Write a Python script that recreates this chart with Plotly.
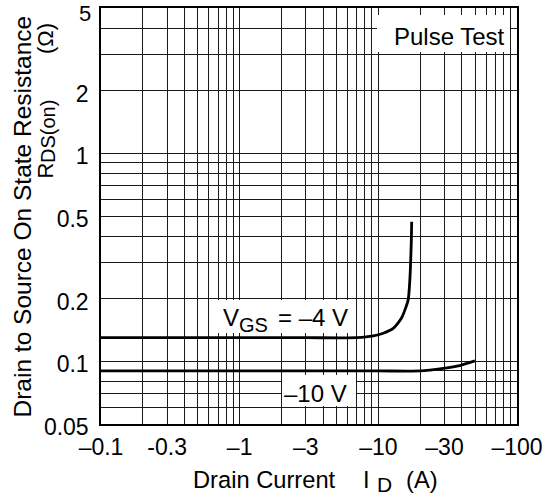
import plotly.graph_objects as go

# ---- data ----
id_vgs4 = [0.1, 0.3, 1, 3, 7, 9.2, 10.85, 12.8, 14.7, 16.4, 16.9, 17.1, 17.3, 17.4]
r_vgs4 = [0.13, 0.13, 0.13, 0.13, 0.13, 0.1325, 0.1365, 0.144, 0.1616, 0.197, 0.25, 0.3, 0.38, 0.469]

id_vgs10 = [0.1, 1, 10, 20, 29.4, 38.7, 49.7]
r_vgs10 = [0.09, 0.09, 0.09, 0.09, 0.0926, 0.0955, 0.1005]

x_tickvals = [0.1, 0.3, 1, 3, 10, 30, 100]
x_ticktext = ["\u20130.1", "-0.3", "\u20131", "\u20133", "\u201310", "\u201330", "\u2013100"]
x_minor = [0.2, 0.4, 0.5, 0.6, 0.7, 0.8, 0.9, 2, 4, 5, 6, 7, 8, 9, 20, 40, 50, 60, 70, 80, 90]

y_tickvals = [0.05, 0.1, 0.2, 0.5, 1, 2, 5]
y_ticktext = ["0.05", "0.1", "0.2", "0.5", "1", "2", ""]   # top label "5" drawn below so it is not clipped
y_top_label = "5"
y_minor = [0.06, 0.07, 0.08, 0.09, 0.3, 0.4, 0.6, 0.7, 0.8, 0.9, 3, 4]

FONT = "Liberation Sans, Arial, sans-serif"
GRID = "#1a1a1a"

W, H = 552, 499
L, R, T, B = 101, 35, 8, 75
PW, PH = W - L - R, H - T - B


def px(xp):
    return (xp - L) / PW


def py(yp):
    return (H - B - yp) / PH


fig = go.Figure()
fig.add_trace(go.Scatter(x=id_vgs4, y=r_vgs4, mode="lines", line=dict(color="black", width=2.8, shape="spline", smoothing=0.6), showlegend=False))
fig.add_trace(go.Scatter(x=id_vgs10, y=r_vgs10, mode="lines", line=dict(color="black", width=2.8, shape="spline", smoothing=0.6), showlegend=False))

axis_common = dict(
    type="log", showline=True, linecolor="black", linewidth=1.5, mirror=True,
    showgrid=True, gridcolor=GRID, gridwidth=1, zeroline=False, automargin=False,
    ticks="", tickfont=dict(family=FONT, size=23, color="black"), ticklabeloverflow="allow",
)

fig.update_xaxes(
    **axis_common, range=[-1, 2.0001], tickmode="array", tickvals=x_tickvals, ticktext=x_ticktext,
    minor=dict(tickmode="array", tickvals=x_minor, showgrid=True, gridcolor=GRID, gridwidth=1, ticks=""),
    ticklabelstandoff=2,
)
fig.update_yaxes(
    **axis_common, range=[-1.30103, 0.69900], tickmode="array", tickvals=y_tickvals, ticktext=y_ticktext,
    minor=dict(tickmode="array", tickvals=y_minor, showgrid=True, gridcolor=GRID, gridwidth=1, ticks=""),
    ticklabelstandoff=6, ticklabelshift=3,
)

# white label boxes covering the grid
boxes = [(377, 15, 510, 52), (209, 300, 356, 333), (282, 375, 356, 406)]
for x0, y0, x1, y1 in boxes:
    fig.add_shape(type="rect", xref="paper", yref="paper", x0=px(x0), x1=px(x1), y0=py(y1), y1=py(y0),
                  fillcolor="white", line=dict(width=0), layer="above")


def text(xp, yp, s, size=24, angle=0, xanchor="center"):
    fig.add_annotation(xref="paper", yref="paper", x=px(xp), y=py(yp), text=s, showarrow=False,
                       font=dict(family=FONT, size=size, color="black"), textangle=angle,
                       xanchor=xanchor, yanchor="middle", borderpad=0)


# top y tick label
text(92, 13.5, y_top_label, size=22, xanchor="right")

# in-plot labels
text(449.7, 36.4, "Pulse Test")
text(230.5, 317.5, "V")
text(253.5, 324.5, "GS", size=20)
text(313, 317.5, "= \u20134 V")
text(315.7, 393, "\u201310 V")

# y-axis title (two rotated lines)
text(22, 216.5, "Drain to Source On State Resistance", size=24.5, angle=-90)
text(45, 170.5, "R", size=22, angle=-90)
text(47.5, 131.5, "DS(on)", size=20, angle=-90)
text(46, 39, "(\u03a9)", size=22, angle=-90)

# x-axis title
text(264.2, 480, "Drain Current", size=23.7)
text(366.5, 480, "I", size=23.7)
text(384, 484, "D", size=21)
text(421.5, 480, "(A)", size=23.7)

fig.update_layout(
    width=W, height=H, margin=dict(l=L, r=R, t=T, b=B),
    paper_bgcolor="white", plot_bgcolor="white", showlegend=False,
)

fig.write_html("out.html", config={"displayModeBar": False},
               post_script="document.body.style.margin='0';document.body.style.padding='0';")
